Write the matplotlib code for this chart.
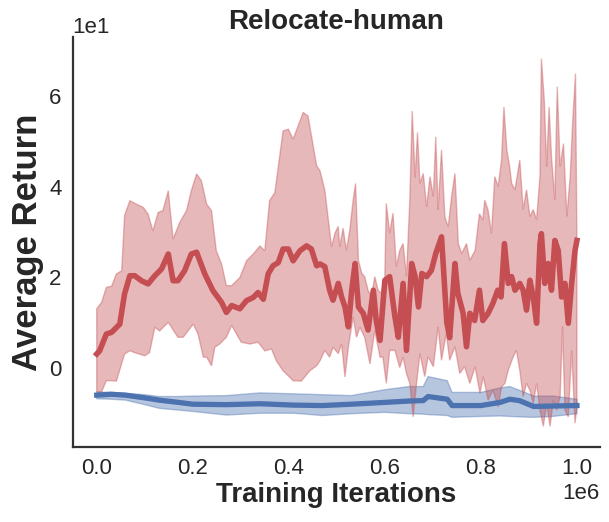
import matplotlib
matplotlib.use("Agg")
import matplotlib.pyplot as plt
import numpy as np

# x in units of 1e6 training iterations, y = average return
red_mean_x = [0.0, 0.006, 0.020, 0.031, 0.048, 0.058, 0.069, 0.079, 0.093, 0.107,
              0.121, 0.135, 0.149, 0.159, 0.169, 0.183, 0.197, 0.208, 0.225, 0.242,
              0.260, 0.270, 0.281, 0.298, 0.312, 0.326, 0.336, 0.347, 0.357, 0.367,
              0.378, 0.388, 0.399, 0.409, 0.423, 0.437, 0.447, 0.458,
              0.465, 0.475, 0.485, 0.492, 0.503, 0.510, 0.517, 0.524, 0.531, 0.538,
              0.545, 0.555, 0.565, 0.576, 0.582, 0.590, 0.600, 0.610, 0.621, 0.628,
              0.638, 0.645, 0.656, 0.663, 0.670, 0.677, 0.687, 0.697, 0.706, 0.718,
              0.729, 0.735, 0.746, 0.752, 0.763, 0.770, 0.777, 0.787, 0.797, 0.804,
              0.815, 0.825, 0.835, 0.842, 0.849, 0.857, 0.864, 0.871, 0.881, 0.888,
              0.895, 0.902, 0.909, 0.916, 0.923, 0.926, 0.933, 0.940, 0.947, 0.954,
              0.961, 0.968, 0.975, 0.982, 0.989, 0.996, 1.000]
red_mean = [3.0, 3.7, 7.4, 7.8, 9.6, 16.3, 20.3, 20.3, 19.2, 18.5,
            20.3, 21.8, 25.1, 19.2, 19.2, 21.4, 25.1, 25.5, 20.7, 17.0,
            14.4, 12.2, 13.7, 13.0, 14.8, 15.5, 16.6, 15.1, 20.7, 22.5,
            23.2, 26.2, 26.2, 23.6, 25.8, 26.9, 26.2, 22.5,
            22.9, 22.3, 17.1, 14.9, 18.6, 15.6, 13.4, 9.0, 17.1, 23.0,
            13.4, 12.0, 8.3, 17.1, 10.4, 6.0, 19.3, 20.1, 11.2, 6.7,
            18.6, 3.8, 23.0, 20.1, 13.4, 20.8, 20.1, 21.5, 25.2, 28.9,
            10.0, 6.6, 23.0, 16.4, 12.0, 4.6, 12.0, 10.4, 17.1, 10.4,
            12.0, 14.2, 17.1, 15.6, 27.4, 18.6, 20.1, 17.1, 18.6, 17.1,
            12.7, 19.3, 15.6, 9.8, 27.4, 29.6, 18.6, 23.0, 17.1, 28.1,
            25.9, 15.6, 18.6, 9.8, 18.6, 25.9, 28.1]

red_upper_x = [0.0, 0.010, 0.020, 0.031, 0.041, 0.052, 0.058, 0.069, 0.083, 0.097,
               0.107, 0.117, 0.128, 0.138, 0.149, 0.159, 0.173, 0.187, 0.197, 0.208,
               0.218, 0.229, 0.239, 0.249, 0.260, 0.270, 0.281, 0.298, 0.312, 0.326,
               0.340, 0.350, 0.360, 0.371, 0.388, 0.399, 0.409, 0.430, 0.440, 0.458,
               0.465, 0.475, 0.489, 0.496, 0.503, 0.506, 0.513, 0.520, 0.527, 0.534,
               0.539, 0.545, 0.552, 0.558, 0.565, 0.572, 0.579, 0.586, 0.593, 0.600,
               0.603, 0.610, 0.617, 0.624, 0.631, 0.638, 0.645, 0.652, 0.657, 0.663,
               0.668, 0.673, 0.680, 0.687, 0.694, 0.701, 0.706, 0.711, 0.718, 0.725,
               0.732, 0.739, 0.746, 0.753, 0.760, 0.770, 0.777, 0.788, 0.797, 0.804,
               0.808, 0.815, 0.822, 0.829, 0.836, 0.843, 0.848, 0.854, 0.860, 0.864,
               0.871, 0.881, 0.888, 0.895, 0.902, 0.909, 0.916, 0.923, 0.926, 0.932,
               0.937, 0.942, 0.947, 0.954, 0.959, 0.965, 0.972, 0.979, 0.986, 0.991,
               0.997, 1.000]
red_upper = [13.0, 14.4, 17.7, 18.0, 20.7, 21.4, 33.6, 36.9, 36.1, 35.4,
             33.9, 30.2, 34.3, 34.7, 39.1, 28.4, 32.1, 34.7, 39.1, 42.8,
             41.3, 36.1, 34.7, 25.8, 22.9, 18.1, 18.1, 19.9, 23.6, 25.1,
             26.9, 25.8, 36.9, 38.7, 52.3, 52.7, 50.5, 56.4, 55.6, 44.6,
             43.5, 39.2, 26.7, 29.7, 31.2, 26.7, 30.8, 25.9, 30.4, 37.0,
             40.7, 23.7, 20.8, 20.1, 17.1, 15.6, 20.1, 17.1, 16.4, 20.1,
             36.3, 29.7, 34.1, 22.3, 25.9, 27.4, 20.1, 37.0, 56.7, 42.0,
             52.0, 40.7, 42.9, 35.5, 42.2, 37.8, 51.0, 34.8, 48.1, 33.3,
             31.1, 37.8, 42.9, 27.4, 25.2, 27.4, 23.7, 25.9, 34.0, 32.6,
             37.0, 34.8, 29.6, 42.2, 40.0, 45.9, 57.6, 48.1, 44.4, 40.7,
             39.3, 45.9, 34.9, 39.3, 33.4, 34.9, 32.7, 42.2, 68.3, 59.1,
             44.4, 57.6, 46.6, 37.1, 62.1, 44.4, 49.5, 33.4, 42.2, 54.0,
             65.0, 27.4]

red_lower_x = [0.0, 0.010, 0.020, 0.031, 0.041, 0.058, 0.069, 0.079, 0.100, 0.110,
               0.121, 0.131, 0.149, 0.169, 0.180, 0.201, 0.211, 0.222, 0.229, 0.239,
               0.246, 0.256, 0.270, 0.281, 0.301, 0.319, 0.336, 0.350, 0.364, 0.374,
               0.388, 0.409, 0.426, 0.444, 0.458,
               0.465, 0.475, 0.485, 0.492, 0.503, 0.510, 0.517, 0.524, 0.534, 0.541,
               0.548, 0.558, 0.569, 0.579, 0.590, 0.596, 0.603, 0.610, 0.621, 0.631,
               0.638, 0.645, 0.652, 0.659, 0.666, 0.673, 0.683, 0.690, 0.701, 0.711,
               0.718, 0.728, 0.735, 0.746, 0.756, 0.766, 0.777, 0.788, 0.798, 0.805,
               0.815, 0.825, 0.836, 0.843, 0.850, 0.857, 0.867, 0.874, 0.881, 0.888,
               0.895, 0.902, 0.909, 0.916, 0.923, 0.930, 0.937, 0.944, 0.951, 0.958,
               0.965, 0.970, 0.975, 0.982, 0.989, 0.996, 1.000]
red_lower = [-5.4, -5.4, -2.9, -2.9, -3.0, 3.0, 3.7, 3.3, 2.6, 3.3,
             8.9, 8.1, 10.0, 6.7, 6.7, 9.6, 7.4, 2.3, 2.3, 0.4,
             4.5, 5.2, 6.7, 9.3, 5.6, 5.2, 5.6, 3.7, 4.1, 1.5,
             -0.7, -2.9, -3.0, -0.7, 0.4,
             1.5, 3.8, 2.3, 4.5, 3.1, 5.2, -2.1, 4.5, 11.2, 6.7,
             8.9, 6.7, 0.8, 8.2, 2.3, 2.3, -3.5, 3.8, 3.8, 0.0,
             2.3, -1.3, -3.5, -10.9, -3.5, 3.1, -2.0, 2.4, 0.2, 9.0,
             1.6, 7.6, 1.6, 4.6, -1.3, 0.2, -3.5, 0.2, -5.7, -2.0,
             -7.2, -5.0, -8.7, -4.3, -3.5, -0.6, 2.3, 3.8, -0.6, -6.4,
             -3.5, -5.0, -7.9, -3.5, -9.4, -13.0, -7.9, -13.0, -7.2, -9.4,
             -6.4, 9.1, -9.4, -10.9, 3.8, -12.3, -8.7]

blue_x = [0.0, 0.03, 0.06, 0.10, 0.13, 0.17, 0.20, 0.27, 0.34, 0.41,
          0.47, 0.53, 0.60, 0.65, 0.68, 0.69, 0.73, 0.74, 0.80, 0.84,
          0.86, 0.88, 0.91, 0.95, 1.0]
blue_mean = [-6.1, -5.9, -6.1, -6.7, -7.2, -7.7, -8.1, -8.2, -8.0, -8.3,
             -8.4, -8.1, -7.7, -7.4, -7.3, -6.4, -7.0, -8.4, -8.4, -7.7,
             -7.0, -7.3, -8.6, -8.5, -8.4]
blue_upper = [-5.4, -5.5, -5.7, -6.0, -6.4, -6.4, -6.3, -6.2, -5.6, -5.8,
              -6.0, -6.2, -4.9, -4.2, -4.2, -2.0, -2.9, -5.5, -5.5, -4.5,
              -4.2, -5.0, -6.3, -6.3, -7.0]
blue_lower = [-6.9, -7.0, -7.2, -8.2, -9.0, -9.4, -9.7, -10.5, -10.1, -10.1,
              -10.6, -10.2, -9.9, -10.2, -10.3, -10.4, -10.6, -11.0, -10.8, -10.7,
              -10.8, -10.9, -11.0, -10.8, -10.2]

RED = '#C44E52'
BLUE = '#4C72B0'

plt.rcParams['font.family'] = ['Liberation Sans', 'DejaVu Sans']

fig = plt.figure(figsize=(6.09, 5.22), dpi=100)
ax = fig.add_axes([0.1194, 0.1442, 0.8658, 0.7843])

scale = 1e6

def band(ax, xu, yu, xl, yl, color):
    xs = np.concatenate([np.array(xu), np.array(xl)[::-1]]) * scale
    ys = np.concatenate([np.array(yu), np.array(yl)[::-1]])
    ax.fill(xs, ys, color=color, alpha=0.4, linewidth=1.0)

band(ax, blue_x, blue_upper, blue_x, blue_lower, BLUE)
band(ax, red_upper_x, red_upper, red_lower_x, red_lower, RED)
ax.plot(np.array(blue_x) * scale, blue_mean, color=BLUE, linewidth=3.8)
ax.plot(np.array(red_mean_x) * scale, red_mean, color=RED, linewidth=4.0)

ax.set_xlim(-0.05e6, 1.048e6)
ax.set_ylim(-17.5, 73.0)
ax.set_xticks([0, 0.2e6, 0.4e6, 0.6e6, 0.8e6, 1.0e6])
ax.set_yticks([0, 20, 40, 60])
ax.ticklabel_format(style='sci', axis='both', scilimits=(0, 0))
ax.tick_params(labelsize=16, colors='#262626', length=0, pad=8)
ax.xaxis.get_offset_text().set_fontsize(16)
ax.yaxis.get_offset_text().set_fontsize(16)

for s in ['top', 'right']:
    ax.spines[s].set_visible(False)
for s in ['left', 'bottom']:
    ax.spines[s].set_color('#333333')
    ax.spines[s].set_linewidth(1.6)

ax.set_title('Relocate-human', fontsize=20, fontweight='bold', color='#262626', pad=6)
ax.set_xlabel('Training Iterations', fontsize=20, fontweight='bold', color='#262626', labelpad=2)
ax.set_ylabel('Average Return', fontsize=25, fontweight='bold', color='#262626', labelpad=4)

fig.savefig('out.png', dpi=100)
